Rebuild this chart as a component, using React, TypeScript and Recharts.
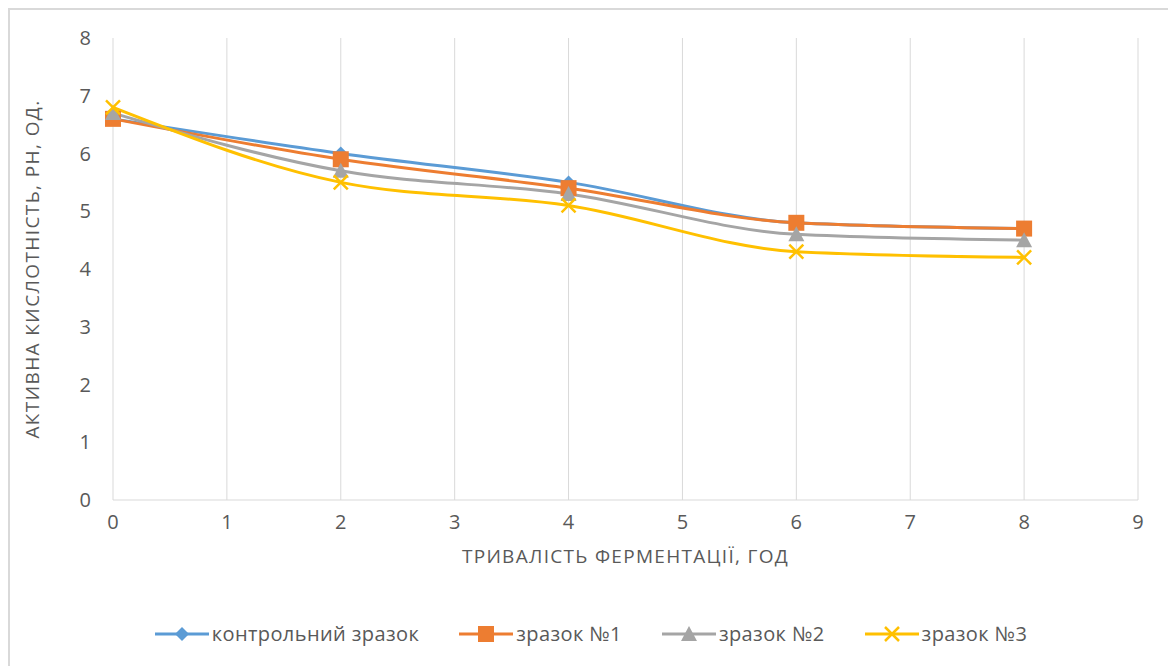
import React from "react";
import { LineChart, Line, XAxis, YAxis, CartesianGrid, Label } from "recharts";

const hours = [0, 2, 4, 6, 8];
const control = [6.6, 6.0, 5.5, 4.8, 4.7];
const sample1 = [6.6, 5.9, 5.4, 4.8, 4.7];
const sample2 = [6.7, 5.7, 5.3, 4.6, 4.5];
const sample3 = [6.8, 5.5, 5.1, 4.3, 4.2];

const xTicks = [0, 1, 2, 3, 4, 5, 6, 7, 8, 9];
const yTicks = [0, 1, 2, 3, 4, 5, 6, 7, 8];

const series = [
  { key: "control", name: "контрольний зразок", color: "#5B9BD5", marker: "diamond" },
  { key: "s1", name: "зразок №1", color: "#ED7D31", marker: "square" },
  { key: "s2", name: "зразок №2", color: "#A5A5A5", marker: "triangle" },
  { key: "s3", name: "зразок №3", color: "#FFC000", marker: "cross" },
];

const data = hours.map((h, i) => ({
  h,
  control: control[i],
  s1: sample1[i],
  s2: sample2[i],
  s3: sample3[i],
}));

const FONT = "'Open Sans', Lato, sans-serif";
const TEXT = "#595959";

function Marker({ type, cx, cy, color }: { type: string; cx: number; cy: number; color: string }) {
  if (type === "diamond") {
    const r = 7;
    return <polygon points={`${cx},${cy - r} ${cx + r},${cy} ${cx},${cy + r} ${cx - r},${cy}`} fill={color} />;
  }
  if (type === "square") {
    const s = 8;
    return <rect x={cx - s} y={cy - s} width={s * 2} height={s * 2} fill={color} />;
  }
  if (type === "triangle") {
    const s = 8;
    return <polygon points={`${cx},${cy - s} ${cx + s},${cy + s - 1} ${cx - s},${cy + s - 1}`} fill={color} />;
  }
  const s = 7;
  return (
    <g stroke={color} strokeWidth={2.5}>
      <line x1={cx - s} y1={cy - s} x2={cx + s} y2={cy + s} />
      <line x1={cx - s} y1={cy + s} x2={cx + s} y2={cy - s} />
    </g>
  );
}

export default function App() {
  return (
    <div
      style={{
        position: "relative",
        width: 1162,
        height: 660,
        border: "2px solid #d9d9d9",
        background: "#fff",
        fontFamily: FONT,
      }}
    >
      <LineChart width={1162} height={660} data={data} margin={{ top: 28, right: 34, left: 0, bottom: 140 }}>
        <CartesianGrid horizontal={false} vertical={true} stroke="#d9d9d9" />
        <XAxis
          dataKey="h"
          type="number"
          domain={[0, 9]}
          ticks={xTicks}
          axisLine={{ stroke: "#d9d9d9" }}
          tickLine={false}
          tickMargin={9}
          height={30}
          tick={{ fill: TEXT, fontSize: 20, fontFamily: FONT }}
        >
          <Label
            content={({ viewBox }: any) => (
              <text
                x={viewBox.x + viewBox.width / 2}
                y={viewBox.y + 63}
                textAnchor="middle"
                fill={TEXT}
                fontSize={19}
                fontFamily={FONT}
                letterSpacing={1.3}
              >
                ТРИВАЛІСТЬ ФЕРМЕНТАЦІЇ, ГОД
              </text>
            )}
          />
        </XAxis>
        <YAxis
          type="number"
          domain={[0, 8]}
          ticks={yTicks}
          width={103}
          axisLine={false}
          tickLine={false}
          tickMargin={16}
          tick={{ fill: TEXT, fontSize: 20, fontFamily: FONT }}
        >
          <Label
            content={({ viewBox }: any) => {
              const cx = 22;
              const cy = viewBox.y + viewBox.height / 2;
              return (
                <text
                  x={cx}
                  y={cy}
                  transform={`rotate(-90 ${cx} ${cy})`}
                  textAnchor="middle"
                  dominantBaseline="central"
                  fill={TEXT}
                  fontSize={19}
                  fontFamily={FONT}
                  letterSpacing={1.4}
                >
                  АКТИВНА КИСЛОТНІСТЬ, РН, ОД.
                </text>
              );
            }}
          />
        </YAxis>
        {series.map((s) => (
          <Line
            key={s.key}
            dataKey={s.key}
            name={s.name}
            type="monotone"
            stroke={s.color}
            strokeWidth={3}
            isAnimationActive={false}
            dot={(p: any) => <Marker key={`${s.key}-${p.index}`} type={s.marker} cx={p.cx} cy={p.cy} color={s.color} />}
          />
        ))}
      </LineChart>
      <div
        style={{
          position: "absolute",
          top: 610,
          left: 0,
          width: "100%",
          display: "flex",
          justifyContent: "center",
          gap: 40,
          fontSize: 20,
          letterSpacing: 0.4,
          color: TEXT,
        }}
      >
        {series.map((s) => (
          <div key={s.key} style={{ display: "flex", alignItems: "center" }}>
            <svg width={54} height={20} style={{ marginRight: 3 }}>
              <line x1={0} y1={10} x2={54} y2={10} stroke={s.color} strokeWidth={3} />
              <Marker type={s.marker} cx={27} cy={10} color={s.color} />
            </svg>
            <span>{s.name}</span>
          </div>
        ))}
      </div>
    </div>
  );
}
